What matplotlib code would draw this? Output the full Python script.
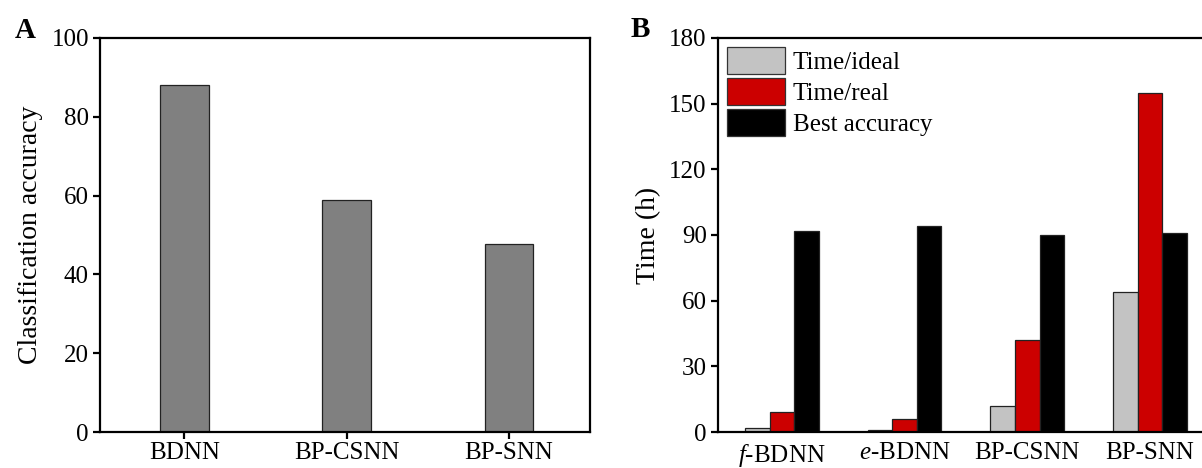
import numpy as np
from matplotlib import pyplot as plt

plt.rcParams['font.family'] = ['Liberation Serif', 'DejaVu Serif']
plt.rcParams['mathtext.fontset'] = 'custom'
plt.rcParams['mathtext.rm'] = 'Liberation Serif'
plt.rcParams['mathtext.it'] = 'Liberation Serif:italic'

# panel A data
models_a = ['BDNN', 'BP-CSNN', 'BP-SNN']
accuracy = [88.0, 59.0, 47.7]

# panel B data
models_b = [r'$\it{f}$-BDNN', r'$\it{e}$-BDNN', 'BP-CSNN', 'BP-SNN']
time_ideal = [2.0, 1.0, 12.0, 64.0]
time_real = [9.0, 6.0, 42.0, 155.0]
best_acc = [92.0, 94.0, 90.0, 91.0]
series_names = ['Time/ideal', 'Time/real', 'Best accuracy']
series_colors = ['#c3c3c3', '#cc0000', '#000000']

fig = plt.figure(figsize=(12.02, 4.68), dpi=100)
axA = fig.add_axes([0.0832, 0.0769, 0.4077, 0.842])
axB = fig.add_axes([0.5973, 0.0769, 0.4126, 0.842])

def style(ax):
    for s in ax.spines.values():
        s.set_linewidth(1.6)
    ax.tick_params(axis='both', labelsize=18, width=1.6, length=5, direction='out')
    ax.tick_params(axis='y', pad=3)

# --- A ---
xa = np.arange(len(models_a))
axA.bar(xa, accuracy, width=0.3, color='#808080', edgecolor='#222222', linewidth=0.9)
axA.set_xlim(-0.52, 2.5)
axA.set_ylim(0, 100)
axA.set_yticks(np.arange(0, 101, 20))
axA.set_xticks(xa)
axA.set_xticklabels(models_a)
axA.set_ylabel('Classification accuracy', fontsize=20, labelpad=6)
style(axA)
axA.tick_params(axis='x', pad=2)

# --- B ---
xb = np.arange(len(models_b))
w = 0.2
for i, (vals, name, c) in enumerate(zip([time_ideal, time_real, best_acc], series_names, series_colors)):
    axB.bar(xb + (i - 1) * w, vals, width=w, color=c, edgecolor='#222222', linewidth=0.9, label=name)
axB.set_xlim(-0.52, 3.52)
axB.set_ylim(0, 180)
axB.set_yticks(np.arange(0, 181, 30))
axB.set_xticks(xb)
axB.set_xticklabels(models_b)
axB.set_ylabel('Time (h)', fontsize=20, labelpad=6)
style(axB)
axB.tick_params(axis='x', length=0, pad=7)
leg = axB.legend(loc='upper left', fontsize=18, frameon=False, handlelength=2.35, handleheight=1.3,
                 labelspacing=0.16, handletextpad=0.3, borderaxespad=0.25, borderpad=0.1)
for h in leg.legend_handles:
    h.set_edgecolor('#333333')

fig.text(0.012, 0.918, 'A', fontsize=21, fontweight='bold')
fig.text(0.525, 0.921, 'B', fontsize=21, fontweight='bold')

fig.savefig('out.png', dpi=100)
